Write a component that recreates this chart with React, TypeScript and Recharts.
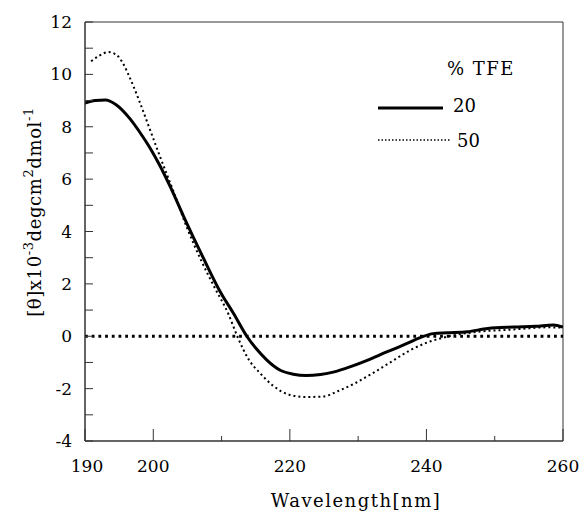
import React from "react";
import {
  LineChart,
  Line,
  XAxis,
  YAxis,
  ReferenceLine,
  ReferenceArea,
} from "recharts";

// % TFE = 20 (solid)
const wl20 = [190, 191.5, 193, 194.5, 196.6, 198, 199.5, 201, 202.5, 204.4, 207.4, 209.8, 211.8, 213.7, 215, 216.6, 218.6, 220.5, 222.4, 224.5, 226.5, 229, 231.5, 234, 236.5, 239.1, 241, 243, 246, 249, 252.8, 256, 258.6, 260];
const cd20 = [8.9, 9.0, 9.02, 8.85, 8.3, 7.8, 7.2, 6.5, 5.7, 4.6, 2.95, 1.7, 0.85, 0.0, -0.45, -0.9, -1.3, -1.45, -1.5, -1.46, -1.36, -1.15, -0.9, -0.62, -0.35, -0.05, 0.1, 0.13, 0.17, 0.3, 0.35, 0.38, 0.43, 0.35];

// % TFE = 50 (dotted)
const wl50 = [190.9, 192, 193.4, 194.6, 195.6, 196.6, 198, 199.5, 201, 203, 205, 207, 209, 211, 212.3, 214, 215.6, 217.6, 220, 222.4, 224.9, 227, 229.5, 232.2, 235, 237.5, 240, 243, 247.9, 252.8, 257.7, 260];
const cd50 = [10.5, 10.7, 10.85, 10.75, 10.4, 9.85, 8.95, 7.9, 6.85, 5.5, 4.1, 2.9, 1.85, 0.85, 0.0, -0.9, -1.4, -1.9, -2.24, -2.32, -2.3, -2.1, -1.8, -1.4, -0.95, -0.55, -0.25, -0.02, 0.18, 0.26, 0.34, 0.33];

const xTicks = [190, 200, 210, 220, 230, 240, 250, 260];
const xLabelled = [190, 200, 220, 240, 260];
const yTicks = [-4, -3, -2, -1, 0, 1, 2, 3, 4, 5, 6, 7, 8, 9, 10, 11, 12];

const series20 = wl20.map((w, i) => ({ wl: w, v: cd20[i] }));
const series50 = wl50.map((w, i) => ({ wl: w, v: cd50[i] }));

// only serif face available in the sandbox
const FONT = "DejaVu Serif";
const AXIS = "#333";
const txt = { fontFamily: FONT, fontSize: 17, fill: "#000" };
const big = { fontFamily: FONT, fontSize: 18, fill: "#000" };

const YTick = (props: any) => {
  const { x, y, payload } = props;
  const ax = x + 14;
  const v = payload.value;
  return (
    <g>
      <line x1={ax} x2={ax + 8} y1={y} y2={y} stroke={AXIS} strokeWidth={1} />
      {v % 2 === 0 && (
        <text x={x + 1} y={y} dy="0.36em" textAnchor="end" style={txt}>
          {v}
        </text>
      )}
    </g>
  );
};

const XTick = (props: any) => {
  const { x, y, payload } = props;
  const ay = y - 10;
  const v = payload.value;
  const major = xLabelled.includes(v);
  return (
    <g>
      <line x1={x} x2={x} y1={ay} y2={ay - (major ? 12 : 5)} stroke={AXIS} strokeWidth={1} />
      {major && (
        <text x={x + (v === 190 ? 2 : 0)} y={ay + 31} textAnchor="middle" style={txt}>
          {v}
        </text>
      )}
    </g>
  );
};

const YTitle = () => {
  const cy = 212;
  const cx = 41;
  return (
    <text x={cx} y={cy} transform={`rotate(-90 ${cx} ${cy})`} textAnchor="middle" style={{ ...big, letterSpacing: 0.6 }}>
      <tspan>[θ]x10</tspan>
      <tspan fontSize={13} dy={-8}>-3</tspan>
      <tspan dy={8}>degcm</tspan>
      <tspan fontSize={13} dy={-8}>2</tspan>
      <tspan dy={8}>dmol</tspan>
      <tspan fontSize={13} dy={-8}>-1</tspan>
    </text>
  );
};

const XTitle = () => (
  <text x={356} y={507} textAnchor="middle" style={{ ...big, letterSpacing: 1.5 }}>
    Wavelength[nm]
  </text>
);

export default function App() {
  return (
    <div style={{ position: "absolute", left: 0, top: 0, width: 587, height: 512, background: "#fff" }}>
      <LineChart width={587} height={512} margin={{ top: 22, right: 24, bottom: 0, left: 0 }}>
        <XAxis
          dataKey="wl"
          type="number"
          domain={[190, 260]}
          ticks={xTicks}
          tick={<XTick />}
          tickSize={0}
          tickMargin={10}
          tickLine={false}
          axisLine={{ stroke: AXIS }}
          height={71}
          allowDataOverflow
          label={<XTitle />}
        />
        <YAxis
          type="number"
          domain={[-4, 12]}
          ticks={yTicks}
          tick={<YTick />}
          tickSize={0}
          tickMargin={14}
          tickLine={false}
          axisLine={{ stroke: AXIS }}
          width={85}
          allowDataOverflow
          label={<YTitle />}
        />
        <ReferenceArea x1={190} x2={260} y1={-4} y2={12} fill="none" stroke={AXIS} strokeWidth={1} />
        <ReferenceLine y={0} stroke="#000" strokeWidth={3} strokeDasharray="2.8 3.9" />
        <Line
          data={series50}
          dataKey="v"
          type="monotone"
          stroke="#000"
          strokeWidth={2}
          strokeDasharray="2 3"
          dot={false}
          isAnimationActive={false}
        />
        <Line
          data={series20}
          dataKey="v"
          type="monotone"
          stroke="#000"
          strokeWidth={3}
          dot={false}
          isAnimationActive={false}
        />
      </LineChart>
      <svg width={587} height={512} style={{ position: "absolute", left: 0, top: 0, pointerEvents: "none" }}>
        <text x={447} y={75} style={{ ...big, letterSpacing: 1.5 }}>% TFE</text>
        <line x1={378} x2={443} y1={108} y2={108} stroke="#000" strokeWidth={3} />
        <text x={453} y={112} style={big}>20</text>
        <line x1={378} x2={450} y1={140} y2={140} stroke="#000" strokeWidth={1.5} strokeDasharray="1.5 2" />
        <text x={457} y={147} style={big}>50</text>
      </svg>
    </div>
  );
}
